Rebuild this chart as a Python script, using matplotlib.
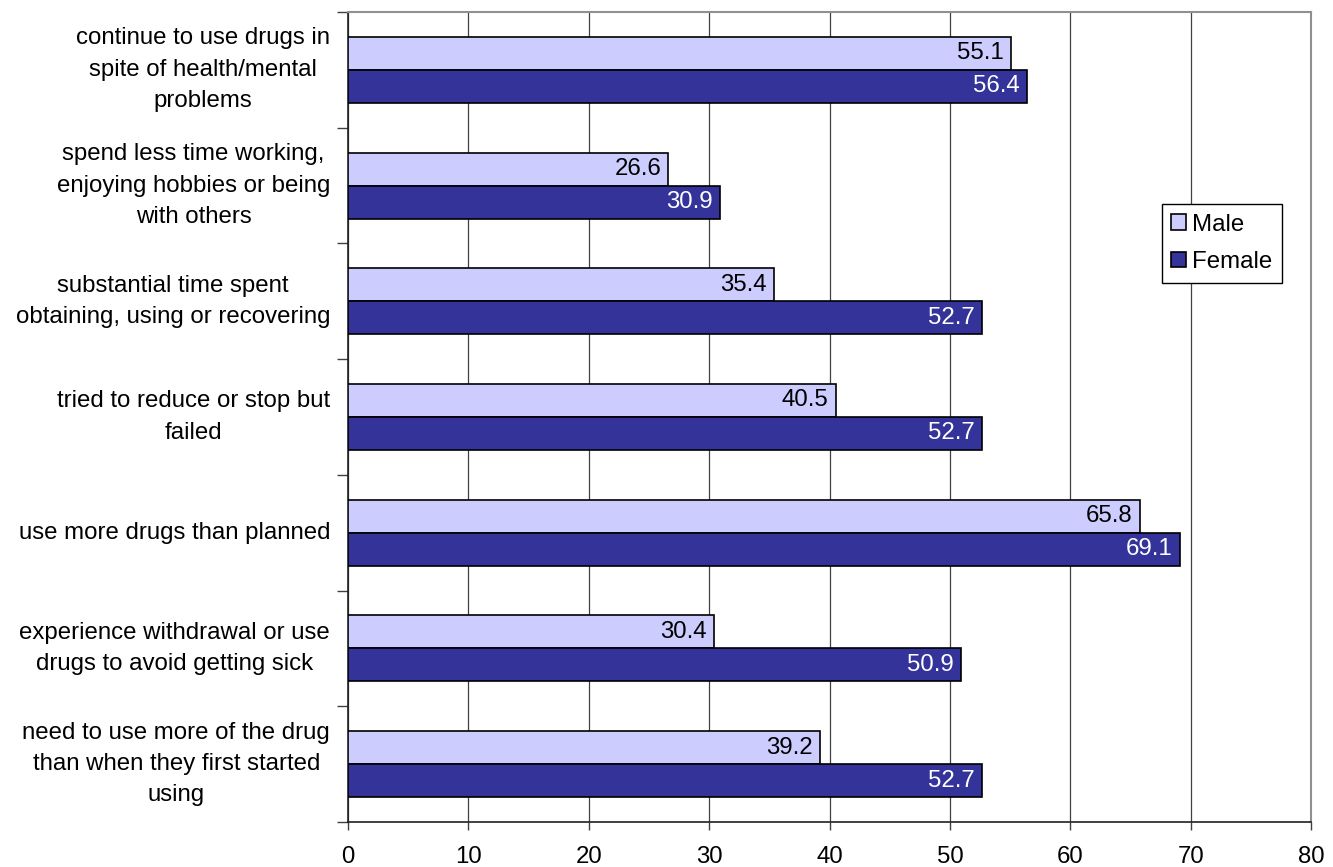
import matplotlib
matplotlib.use("Agg")
import matplotlib.pyplot as plt
import numpy as np

plt.rcParams['font.family'] = ['Liberation Sans', 'DejaVu Sans']

categories = [
    "continue to use drugs in\nspite of health/mental\nproblems",
    "spend less time working,\nenjoying hobbies or being\nwith others",
    "substantial time spent\nobtaining, using or recovering",
    "tried to reduce or stop but\nfailed",
    "use more drugs than planned",
    "experience withdrawal or use\ndrugs to avoid getting sick",
    "need to use more of the drug\nthan when they first started\nusing",
]
male = [55.1, 26.6, 35.4, 40.5, 65.8, 30.4, 39.2]
female = [56.4, 30.9, 52.7, 52.7, 69.1, 50.9, 52.7]
series_names = ["Male", "Female"]
x_ticks = [0, 10, 20, 30, 40, 50, 60, 70, 80]

male_color = "#CCCCFF"
female_color = "#333399"
FS = 17.3

fig = plt.figure(figsize=(13.33, 8.67), dpi=100)
ax = fig.add_axes([0.2611, 0.0519, 0.9835 - 0.2611, 0.9862 - 0.0519])

n = len(categories)
pos = np.arange(n)  # 0 at top after inverting
h = 0.285

ax.barh(pos - h / 2, male, height=h, color=male_color, edgecolor="black",
        linewidth=1.2, label=series_names[0], zorder=3)
ax.barh(pos + h / 2, female, height=h, color=female_color, edgecolor="black",
        linewidth=1.2, label=series_names[1], zorder=3)

for i, v in enumerate(male):
    ax.text(v - 0.6, pos[i] - h / 2, f"{v:.1f}", ha="right", va="center",
            fontsize=FS, color="black", zorder=4)
for i, v in enumerate(female):
    ax.text(v - 0.6, pos[i] + h / 2, f"{v:.1f}", ha="right", va="center",
            fontsize=FS, color="white", zorder=4)

ax.set_xlim(0, 80)
ax.set_ylim(n - 0.5, -0.5)
ax.set_xticks(x_ticks)
ax.set_xticklabels([str(t) for t in x_ticks], fontsize=FS)
ax.xaxis.grid(True, color="#404040", linewidth=0.9, zorder=0)

# category labels centred between ticks at category boundaries
ax.set_yticks(np.arange(-0.5, n, 1.0))
ax.set_yticklabels([])
ax.tick_params(axis="y", direction="out", length=8, width=1, color="#404040")
ax.tick_params(axis="x", direction="out", length=6, width=1, color="#404040", pad=11)
for i, c in enumerate(categories):
    ax.text(-0.0185, pos[i], c, transform=ax.get_yaxis_transform(), ha="right",
            va="center", multialignment="center", fontsize=FS, linespacing=1.55)

for side in ["top", "right"]:
    ax.spines[side].set_color("#909090")
    ax.spines[side].set_linewidth(1.5)
for side in ["left", "bottom"]:
    ax.spines[side].set_color("#202020")
    ax.spines[side].set_linewidth(1.2)

leg = ax.legend(loc="upper left", bbox_to_anchor=(0.845, 0.763), fontsize=FS,
                frameon=True, fancybox=False, edgecolor="black", framealpha=1,
                handlelength=0.6, handleheight=0.6, handletextpad=0.25,
                borderpad=0.4, labelspacing=0.65, borderaxespad=0)
leg.get_frame().set_linewidth(1.0)

fig.savefig("out.png", dpi=100, facecolor="white")
